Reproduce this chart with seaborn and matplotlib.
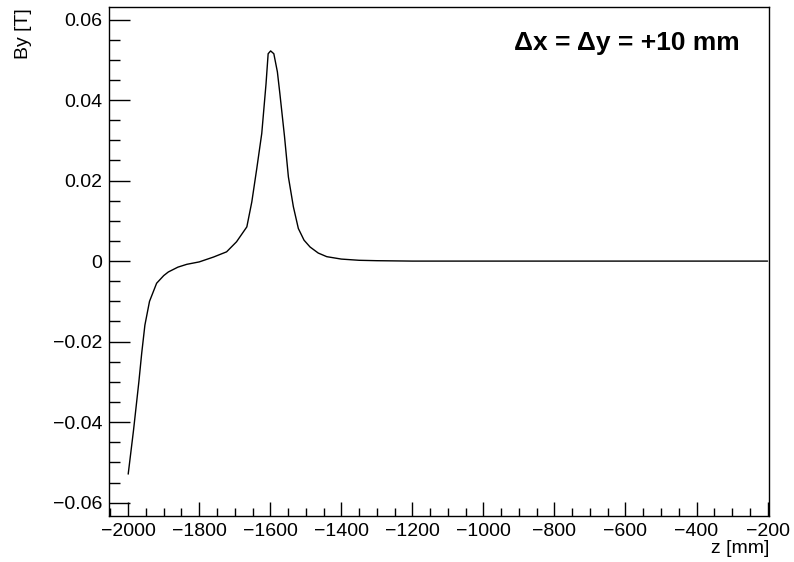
import matplotlib
matplotlib.use("Agg")
import matplotlib.pyplot as plt
from matplotlib.ticker import MultipleLocator
import seaborn as sns
import pandas as pd

# field map values
z_mm = [-2000, -1985, -1970, -1962, -1953, -1940, -1920, -1900, -1887, -1860,
        -1835, -1800, -1760, -1723, -1695, -1666, -1652, -1638, -1624, -1612,
        -1606, -1599, -1590, -1580, -1573, -1560, -1549, -1535, -1521, -1505,
        -1488, -1465, -1441, -1400, -1350, -1300, -1200, -1000, -800, -600,
        -400, -200]
by_T = [-0.0529, -0.0420, -0.0300, -0.0229, -0.0159, -0.0100, -0.0055, -0.0036,
        -0.0027, -0.0015, -0.0008, -0.0002, 0.0010, 0.0023, 0.0048, 0.0085,
        0.0147, 0.0230, 0.0317, 0.0440, 0.0515, 0.0522, 0.0515, 0.0470, 0.0416,
        0.0310, 0.0209, 0.0135, 0.0081, 0.0052, 0.0035, 0.0020, 0.0011, 0.0005,
        0.0002, 0.0001, 0.0, 0.0, 0.0, 0.0, 0.0, 0.0]
label_text = "\u0394x = \u0394y = +10 mm"

df = pd.DataFrame({"z": z_mm, "By": by_T})

sns.set_style("white")
plt.rcParams["font.family"] = ["Liberation Sans", "DejaVu Sans"]
plt.rcParams["text.color"] = "black"

fig = plt.figure(figsize=(7.94, 5.62), dpi=100)
ax = fig.add_axes([0.1373, 0.0819, 0.8312, 0.9056])

sns.lineplot(data=df, x="z", y="By", ax=ax, color="black", linewidth=1.0)

ax.set_xlim(-2054, -196)
ax.set_ylim(-0.0633, 0.0631)

ax.xaxis.set_major_locator(MultipleLocator(200))
ax.xaxis.set_minor_locator(MultipleLocator(50))
ax.yaxis.set_major_locator(MultipleLocator(0.02))
ax.yaxis.set_minor_locator(MultipleLocator(0.005))
ax.yaxis.set_major_formatter(plt.FuncFormatter(
    lambda v, p: "0" if abs(v) < 1e-9 else f"{v:.2f}".replace("-", "\u2212")))

ax.tick_params(axis="both", which="both", direction="in", top=False,
               right=False, bottom=True, left=True, labelsize=14,
               colors="black", labelcolor="black")
ax.tick_params(axis="y", which="major", length=15, width=1, pad=5)
ax.tick_params(axis="y", which="minor", length=8, width=1)
ax.tick_params(axis="x", which="major", length=10, width=1, pad=5)
ax.tick_params(axis="x", which="minor", length=6, width=1)

for s in ax.spines.values():
    s.set_color("black")
    s.set_linewidth(1.0)

ax.set_xlabel("")
ax.set_ylabel("")
fig.text(0.9685, 0.009, "z [mm]", ha="right", va="bottom", fontsize=14)
fig.text(0.019, 0.985, "By [T]", ha="left", va="top", rotation=90, fontsize=14)

ax.text(0.956, 0.929, label_text, transform=ax.transAxes, ha="right",
        va="center", fontsize=19, fontweight="bold")

fig.savefig("out.png", dpi=100)
